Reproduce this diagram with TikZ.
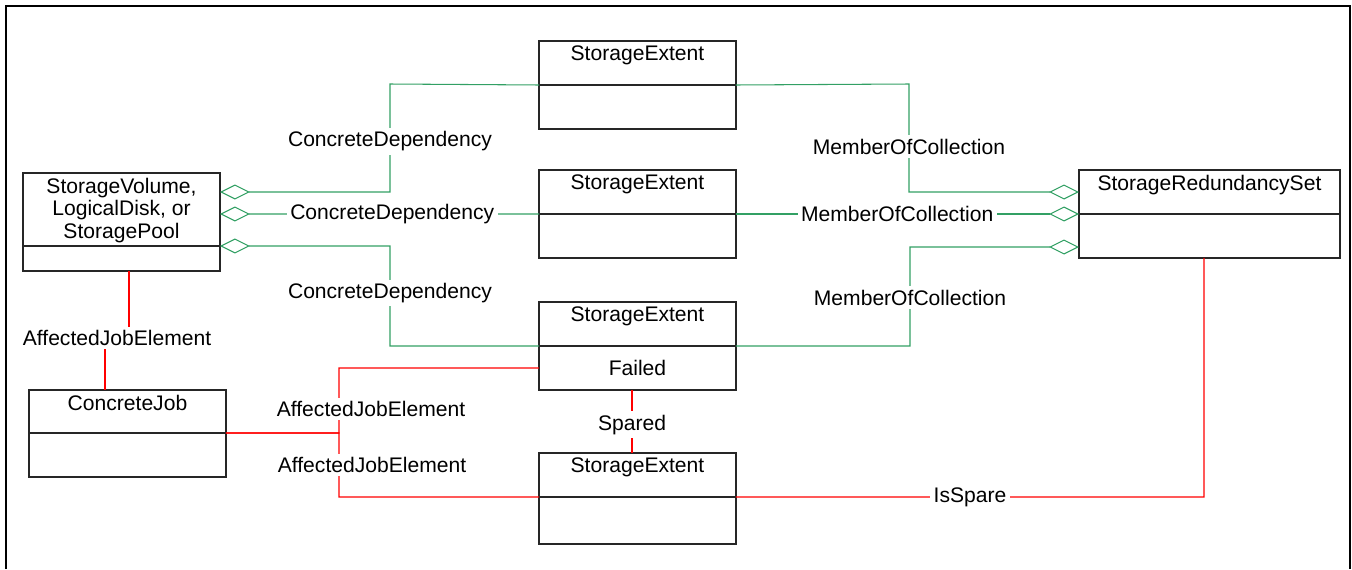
\documentclass[tikz,border=0pt]{standalone}
\usepackage{fontspec}
\setmainfont{Liberation Sans}
\usetikzlibrary{arrows.meta, positioning}

\definecolor{assocgreen}{RGB}{50,160,100}
\tikzset{
  clsname/.style={draw=black!85, line width=0.7pt, anchor=north west, minimum width=3.94cm, minimum height=0.88cm, inner sep=0pt, outer sep=0pt},
  clsattr/.style={clsname},
  clstitle/.style={anchor=north, inner sep=2.5pt},
  lbl/.style={fill=white, inner sep=2pt},
  agg/.style={draw=assocgreen, line width=0.6pt, {Diamond[open,length=0.6cm,width=0.3cm]}-},
  dep/.style={draw=red, line width=0.6pt},
}

\begin{document}
\begin{tikzpicture}[x=0.02cm, y=-0.02cm, font=\fontsize{12pt}{13pt}\selectfont]
    \useasboundingbox (0,0) rectangle (1352,569);
    % Frame, open at the bottom
    \draw[line width=1.2pt] (6,569) -- (6,6) -- (1350,6) -- (1350,569);
    % Classes
    \node[clsname, minimum height=1.46cm] (svn) at (23,173) {};
    \node[clsattr, minimum height=0.5cm, below=0pt of svn] (svb) {};
    \node[clstitle, align=center] (svt) at (svn.north) {StorageVolume,\\LogicalDisk, or\\StoragePool};
    \node[clsname, minimum height=0.86cm] (cjn) at (29,390) {};
    \node[clsattr, below=0pt of cjn] (cjb) {};
    \node[clstitle] (cjt) at (cjn.north) {ConcreteJob};
    \node[clsname] (se1n) at (539,41) {};
    \node[clsattr, below=0pt of se1n] (se1b) {};
    \node[clstitle] (se1t) at (se1n.north) {StorageExtent};
    \node[clsname] (se2n) at (539,170) {};
    \node[clsattr, below=0pt of se2n] (se2b) {};
    \node[clstitle] (se2t) at (se2n.north) {StorageExtent};
    \node[clsname] (se3n) at (539,302) {};
    \node[clsattr, below=0pt of se3n] (se3b) {Failed};
    \node[clstitle] (se3t) at (se3n.north) {StorageExtent};
    \node[clsname] (se4n) at (539,453) {};
    \node[clsattr, minimum height=0.94cm, below=0pt of se4n] (se4b) {};
    \node[clstitle] (se4t) at (se4n.north) {StorageExtent};
    \node[clsname, minimum width=5.22cm] (srsn) at (1079,170) {};
    \node[clsattr, minimum width=5.22cm, below=0pt of srsn] (srsb) {};
    \node[clstitle] (srst) at (srsn.north) {StorageRedundancySet};
    % ConcreteDependency
    \draw[agg] (svn.east |- 0,192) -- (390,192) -- node[lbl, pos=0.47]{ConcreteDependency} (390,84) -- (se1n.south west);
    \draw[agg] (svn.east |- 0,214) -- node[lbl, pos=0.54]{ConcreteDependency} (se2n.south west);
    \draw[agg] (svn.south east) -- (390,246) -- node[lbl, pos=0.47]{ConcreteDependency} (390,346) -- (se3n.south west);
    % MemberOfCollection
    \draw[agg] (srsn.west |- 0,192) -- (909,192) -- node[lbl, pos=0.42]{MemberOfCollection} (909,84) -- (se1n.south east);
    \draw[agg] (srsn.south west) -- node[lbl, pos=0.53]{MemberOfCollection} (se2n.south east);
    \draw[agg] (srsn.west |- 0,247) -- (910,247) -- node[lbl, pos=0.51]{MemberOfCollection} (910,346) -- (se3n.south east);
    % AffectedJobElement
    \draw[dep] (svb.south -| 129,0) -- (129,338) -- node[lbl]{AffectedJobElement} (105,338) -- (cjn.north -| 105,0);
    \draw[dep] (cjn.south east) -- (339,433) -- node[lbl, pos=0.37, xshift=0.64cm]{AffectedJobElement} (339,368) -- (se3b.west);
    \draw[dep] (cjn.south east) -- (339,433) -- node[lbl, pos=0.5, xshift=0.66cm]{AffectedJobElement} (339,497) -- (se4n.south west);
    % Spared and IsSpare
    \draw[dep] (se3b.south -| 632,0) -- node[lbl, pos=0.55]{Spared} (se4n.north -| 632,0);
    \draw[dep] (se4n.south east) -- node[lbl]{IsSpare} (1204,497) -- (srsb.south -| 1204,0);
\end{tikzpicture}
\end{document}
